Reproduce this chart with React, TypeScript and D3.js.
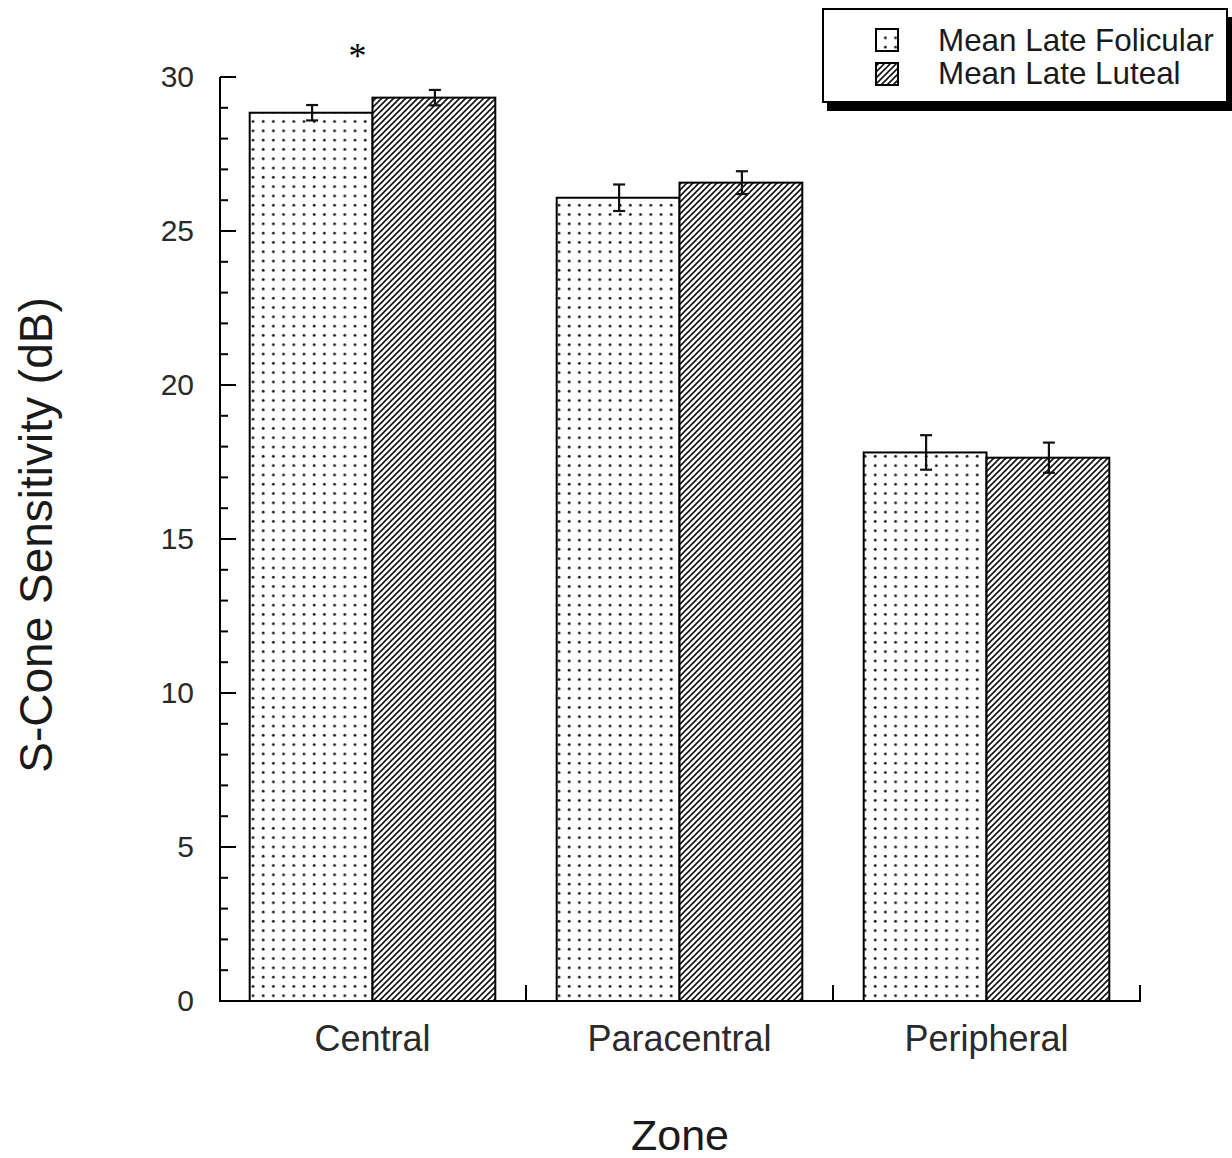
import React from "react";
import * as d3 from "d3";

// Zones on the x axis and the two menstrual-phase series
const zones = ["Central", "Paracentral", "Peripheral"];
const seriesNames = ["Mean Late Folicular", "Mean Late Luteal"];
const follicularMeans = [28.84, 26.08, 17.81];
const follicularErr = [0.25, 0.43, 0.56];
const lutealMeans = [29.33, 26.57, 17.64];
const lutealErr = [0.25, 0.37, 0.49];
const yTickValues = [0, 5, 10, 15, 20, 25, 30];
const significantZones = ["Central"];

const W = 1232;
const H = 1158;
const FONT = "'Liberation Sans', Arial, Helvetica, sans-serif";

export default function App() {
  const y = d3.scaleLinear().domain([0, 30]).range([1001, 77]);
  const x0 = d3.scaleBand<string>().domain(zones).range([219, 1140]).paddingInner(0).paddingOuter(0);
  const x1 = d3
    .scaleBand<string>()
    .domain(seriesNames)
    .range([0, x0.bandwidth()])
    .paddingInner(0)
    .paddingOuter(0.25);

  const series = [
    { name: seriesNames[0], means: follicularMeans, errs: follicularErr, fill: "url(#dots)" },
    { name: seriesNames[1], means: lutealMeans, errs: lutealErr, fill: "url(#hatch)" },
  ];

  const minorTicks = d3.range(0, 31, 1);
  const xAxisX0 = x0.range()[0];
  const xAxisX1 = x0.range()[1];

  return (
    <svg
      width={W}
      height={H}
      viewBox={`0 0 ${W} ${H}`}
      style={{ position: "absolute", left: 0, top: 0, background: "#fff" }}
    >
      <defs>
        <pattern id="dots" width={10.2} height={9.3} patternUnits="userSpaceOnUse" x={250} y={1001}>
          <rect width={10.2} height={9.3} fill="#fff" />
          <circle cx={3} cy={4} r={1.4} fill="#1a1a1a" />
        </pattern>
        <pattern id="hatch" width={6} height={6} patternUnits="userSpaceOnUse">
          <rect width={6} height={6} fill="#fff" />
          <path d="M-1.5,1.5 L1.5,-1.5 M0,6 L6,0 M4.5,7.5 L7.5,4.5" stroke="#111" strokeWidth={1.6} />
        </pattern>
      </defs>

      {/* bars */}
      {series.map((s) =>
        zones.map((z, i) => {
          const bx = (x0(z) ?? 0) + (x1(s.name) ?? 0);
          const bw = x1.bandwidth();
          return (
            <rect
              key={`${s.name}-${z}`}
              x={bx}
              y={y(s.means[i])}
              width={bw}
              height={y(0) - y(s.means[i])}
              fill={s.fill}
              stroke="#000"
              strokeWidth={2}
            />
          );
        })
      )}

      {/* error bars */}
      {series.map((s) =>
        zones.map((z, i) => {
          const cx = (x0(z) ?? 0) + (x1(s.name) ?? 0) + x1.bandwidth() / 2 + 1;
          const top = y(s.means[i] + s.errs[i]);
          const bot = y(s.means[i] - s.errs[i]);
          return (
            <g key={`err-${s.name}-${z}`} stroke="#111" strokeWidth={2.2}>
              <line x1={cx} x2={cx} y1={top} y2={bot} />
              <line x1={cx - 6} x2={cx + 6} y1={top} y2={top} />
              <line x1={cx - 6} x2={cx + 6} y1={bot} y2={bot} />
            </g>
          );
        })
      )}

      {/* significance marker */}
      {significantZones.map((z) => (
        <text
          key={`sig-${z}`}
          x={(x0(z) ?? 0) + x0.bandwidth() / 2 - 15}
          y={68}
          textAnchor="middle"
          fontFamily="'Liberation Serif', 'Times New Roman', serif"
          fontSize={36}
          fill="#000"
        >
          *
        </text>
      ))}

      {/* y axis */}
      <g>
        <line x1={220} x2={220} y1={y(30)} y2={y(0) + 1} stroke="#000" strokeWidth={2} />
        {minorTicks.map((t) => (
          <line
            key={`mt-${t}`}
            x1={220}
            x2={t % 5 === 0 ? 236 : 228}
            y1={y(t)}
            y2={y(t)}
            stroke="#000"
            strokeWidth={2}
          />
        ))}
        {yTickValues.map((t) => (
          <text
            key={`yl-${t}`}
            x={194}
            y={y(t) + 10}
            textAnchor="end"
            fontFamily={FONT}
            fontSize={30}
            fill="#2a2a2a"
          >
            {t}
          </text>
        ))}
      </g>

      {/* x axis */}
      <g>
        <line x1={xAxisX0} x2={xAxisX1 + 1} y1={y(0)} y2={y(0)} stroke="#000" strokeWidth={2} />
        {zones.map((z) => (
          <line
            key={`xt-${z}`}
            x1={(x0(z) ?? 0) + x0.bandwidth()}
            x2={(x0(z) ?? 0) + x0.bandwidth()}
            y1={y(0)}
            y2={y(0) - 16}
            stroke="#000"
            strokeWidth={2}
          />
        ))}
        {zones.map((z) => (
          <text
            key={`xl-${z}`}
            x={(x0(z) ?? 0) + x0.bandwidth() / 2}
            y={1051}
            textAnchor="middle"
            fontFamily={FONT}
            fontSize={36}
            fill="#2a2a2a"
          >
            {z}
          </text>
        ))}
      </g>

      {/* axis titles */}
      <text
        x={680}
        y={1150}
        textAnchor="middle"
        fontFamily={FONT}
        fontSize={43}
        fill="#1a1a1a"
      >
        Zone
      </text>
      <text
        transform="translate(52,535) rotate(-90)"
        textAnchor="middle"
        fontFamily={FONT}
        fontSize={46}
        fill="#1a1a1a"
      >
        S-Cone Sensitivity (dB)
      </text>

      {/* legend */}
      <g>
        <rect x={827} y={17} width={405} height={94} fill="#000" />
        <rect x={823} y={9} width={404} height={93} fill="#fff" stroke="#000" strokeWidth={2} />
        {series.map((s, i) => (
          <g key={`lg-${s.name}`}>
            <rect
              x={876}
              y={29 + i * 34}
              width={22}
              height={22}
              fill={s.fill}
              stroke="#000"
              strokeWidth={2}
            />
            <text
              x={938}
              y={51 + i * 33}
              fontFamily={FONT}
              fontSize={31.4}
              fill="#1a1a1a"
            >
              {s.name}
            </text>
          </g>
        ))}
      </g>
    </svg>
  );
}
